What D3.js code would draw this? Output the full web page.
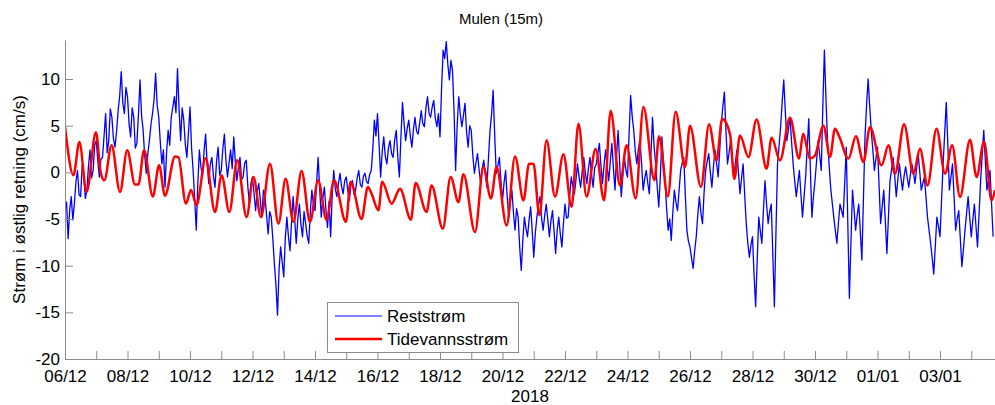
<!DOCTYPE html>
<html>
<head>
<meta charset="utf-8">
<script src="https://cdn.jsdelivr.net/npm/d3@7"></script>
<style>
  html, body { margin: 0; padding: 0; background: #fff; }
  svg { display: block; font-family: "Liberation Sans", Arial, sans-serif; }
</style>
</head>
<body>
<svg id="chart" width="995" height="405"></svg>
<script>
// ---------------- DATA ----------------
const title = "Mulen (15m)";
const yLabel = "Strøm i østlig retning (cm/s)";
const xLabel = "2018";
const seriesNames = ["Reststrøm", "Tidevannsstrøm"];
const startDate = "2018-12-06T00:00:00Z";
const endDays = 29.76;              // axis end, days after start
const yTicks = [-20, -15, -10, -5, 0, 5, 10];
const yMax = 14.18;
const xTickLabels = ["06/12","08/12","10/12","12/12","14/12","16/12","18/12","20/12",
                     "22/12","24/12","26/12","28/12","30/12","01/01","03/01"];

// Residual current (Reststrøm), cm/s, read every 0.1 day from start (d = 0.0, 0.1, ...)
const residualStepDays = 0.1;
const residual = [
  -4.1,-7.1,-2.6,-3.4,0.2,-2.6,-0.1,-1.9,2.4,0.2,
  3.4,-0.5,1.6,6.3,3.4,5.9,2.7,6.6,10.8,6.3,
  8.1,3.8,5.9,3.1,9.9,4.5,-0.1,3.4,6.3,10.6,
  5.9,0.9,-1.6,4.5,5.9,8.1,11.1,3.4,5.6,1.6,
  7.0,0.2,-6.2,2.4,-0.5,4.1,-1.2,1.6,-1.6,2.7,
  0.2,4.1,-0.5,2.4,3.8,-0.9,1.6,-0.5,1.3,-3.4,
  -0.5,-4.1,-1.2,-4.8,-2.6,-6.6,-4.8,-9.8,-15.3,-8.0,
  -11.2,-4.8,-8.4,-2.6,-7.6,-3.4,-6.9,-5.5,-7.6,-1.9,
  -4.1,1.6,-4.8,-1.6,-5.9,-6.9,0.2,-2.6,-0.1,-2.3,
  -0.5,-3.0,-0.9,-1.9,0.2,-1.6,-0.1,-1.2,0.2,5.6,
  6.3,-0.5,3.8,0.9,3.4,1.6,4.5,-0.5,7.5,3.4,
  5.6,2.7,5.9,4.1,6.6,4.9,8.1,5.9,7.7,4.9,
  3.8,13.1,14.0,9.9,10.9,0.2,8.1,4.9,7.4,2.7,
  4.5,-0.1,2.0,-1.2,1.3,-1.6,4.5,8.8,-0.1,1.6,
  -3.0,0.2,-4.8,-1.9,-6.2,-4.8,-10.5,-4.8,-6.9,-3.7,
  -9.1,-4.8,-2.6,-6.2,-3.4,-6.9,-4.1,-8.7,-4.8,-8.0,
  -3.4,-4.8,-0.5,-2.3,0.9,-1.6,1.6,-1.2,1.6,-1.6,
  0.9,3.1,-1.2,2.4,-0.9,3.1,-1.9,4.5,-2.6,1.6,
  -0.5,8.25,4.5,0.9,3.4,-1.9,0.2,-2.3,5.9,0.9,
  -3.7,3.8,-0.9,-6.2,-7.3,-1.9,-4.1,0.2,1.6,-6.2,
  -8.0,-10.3,-6.9,-2.6,-5.5,0.2,2.0,-1.6,2.4,-0.5,
  5.2,8.6,0.9,3.4,-0.5,2.4,-2.3,0.9,-5.5,-9.1,
  -6.9,-14.4,-4.8,-7.6,-0.9,-5.5,-3.4,-14.4,0.9,4.9,
  9.9,3.4,5.9,0.9,-2.6,0.2,-4.8,-0.5,5.75,-4.8,
  -0.9,3.4,0.2,13.1,3.4,-1.6,-4.8,-7.6,-3.4,-4.8,
  2.7,-13.5,-1.9,-6.2,-3.4,-9.4,3.8,10.0,4.5,0.2,
  2.7,-5.5,-1.9,-8.7,-0.9,1.6,-2.6,0.9,-1.9,0.6,
  -1.6,0.9,-1.2,2.0,-1.9,-0.5,-4.8,-7.6,-10.9,-4.8,
  -6.9,0.9,7.5,-1.9,0.9,-6.2,-4.1,-10.1,-6.2,-2.6,
  -6.9,-3.4,-8.0,-0.9,4.5,-1.9,0.2,-6.9
];
// Residual current read halfway between those samples (d = 0.05, 0.15, ...)
const residualMid = [
  -3.2,-4.0,-5.1,-1.0,-2.4,0.8,-2.8,0.6,-0.6,2.9,
  1.2,1.4,3.9,2.1,6.8,3.6,4.4,8.2,7.4,9.1,
  5.2,6.9,2.6,6.2,6.1,1.8,2.0,5.1,7.8,7.2,
  3.2,2.4,2.1,2.9,7.0,6.4,6.8,6.9,3.0,4.2,
  2.6,-2.8,-1.2,0.6,2.3,0.8,0.9,-0.4,1.2,-0.3,
  2.5,1.3,1.0,0.4,1.1,0.6,-0.8,1.0,-1.5,-1.2,
  -2.3,-2.0,-3.0,-1.9,-4.6,-4.2,-7.1,-12.1,-10.4,-9.6,
  -7.0,-6.9,-5.3,-5.1,-5.0,-5.6,-4.2,-6.8,-4.3,-3.5,
  -1.2,-1.8,-2.8,-4.0,-3.1,-2.5,-1.8,-1.2,-1.5,-0.9,
  -2.0,-1.4,-2.4,-0.6,-1.3,-0.4,-1.0,-0.2,2.5,3.9,
  3.0,2.2,1.7,2.6,2.0,3.5,1.6,3.8,5.2,4.7,
  3.9,4.6,4.4,5.3,5.2,6.9,6.3,7.0,5.8,6.3,
  9.0,12.2,11.6,12.0,6.5,5.1,6.2,6.1,4.3,5.0,
  1.8,1.0,0.3,0.4,-0.2,1.5,6.2,4.0,0.7,-0.9,
  -1.1,-2.6,-3.2,-4.3,-3.9,-8.0,-7.3,-6.0,-5.1,-6.2,
  -6.5,-3.5,-4.9,-4.6,-5.1,-5.2,-6.3,-6.2,-6.6,-5.5,
  -4.9,-2.5,-1.5,-0.8,-0.5,0.1,0.0,0.4,-0.2,0.5,
  2.0,0.7,0.8,0.6,1.2,0.4,1.8,0.9,-0.4,0.2,
  4.0,6.0,2.2,2.6,1.0,-0.7,-1.2,1.9,2.8,-1.5,
  -0.5,1.2,-3.8,-5.0,-4.3,-3.2,-2.0,1.0,-2.4,-7.4,
  -9.2,-8.4,-4.5,-4.4,-2.2,1.2,0.0,0.6,1.0,2.3,
  7.0,4.5,2.1,1.4,1.0,0.0,-0.6,-2.4,-7.6,-7.8,
  -11.0,-9.5,-6.3,-4.0,-3.4,-4.2,-8.8,-6.5,2.8,7.6,
  6.5,4.6,3.3,-0.9,-1.2,-2.4,-2.6,2.6,0.5,-2.6,
  1.2,1.8,7.0,8.0,0.9,-3.2,-6.2,-5.4,-4.1,-1.2,
  -5.5,-7.5,-4.0,-4.6,-6.4,-2.8,7.2,7.1,2.4,1.5,
  -1.4,-3.7,-5.2,-4.8,0.3,-0.4,-0.8,-0.6,-0.4,-0.5,
  -0.3,0.0,0.4,0.1,-1.2,-2.6,-6.2,-9.2,-7.9,-5.8,
  -3.0,4.2,3.0,-0.5,-2.6,-5.0,-7.1,-8.2,-4.4,-4.8,
  -5.1,-5.7,-4.4,1.8,1.3,-0.8,-3.4
];

// Tidal current (Tidevannsstrøm): turning points, days after start / cm/s
const tideDays = [
  0,0.27,0.46,0.69,0.99,1.14,1.26,1.49,1.76,1.99,2.24,2.35,2.53,2.81,3.01,3.2,3.52,3.63,3.87,4.03,
  4.21,4.5,4.8,5.01,5.26,5.51,5.81,6.03,6.27,6.56,6.83,7.06,7.31,7.57,7.84,8.1,8.37,8.61,8.99,9.14,
  9.49,9.69,9.81,10.03,10.15,10.45,10.72,11.07,11.22,11.57,11.73,12.09,12.34,12.59,12.75,13.12,13.39,13.63,13.81,14.13,
  14.4,14.67,14.85,14.99,15.18,15.41,15.68,15.95,16.21,16.43,16.69,16.98,17.25,17.46,17.76,17.97,18.26,18.51,18.86,19.01,
  19.29,19.54,19.84,20.0,20.35,20.61,20.85,21.03,21.28,21.42,21.6,21.87,22.13,22.45,22.61,22.88,23.2,23.49,23.62,23.84,
  24.0,24.27,24.48,24.64,24.78,25.07,25.31,25.55,25.76,26.13,26.35,26.56,26.85,27.15,27.36,27.6,27.89,28.16,28.39,28.64,
  28.96,29.17,29.41,29.65,29.76
];
const tideValues = [
  4.9,-0.3,3.25,-2.1,4.3,0.0,-0.86,2.9,-2.1,2.36,-1.3,-1.3,2.36,-2.6,0.75,-2.5,1.7,1.6,-3.35,-1.9,
  -3.5,1.5,-4.25,-0.3,-4.25,1.3,-4.8,-0.5,-4.8,0.93,-5.5,-0.7,-5.3,0.15,-5.3,-0.86,-5.1,-0.86,-5.3,-1.0,
  -5.0,-1.57,-2.3,-4.07,-1.0,-3.36,-1.75,-5.07,-1.14,-4.25,-1.4,-6.04,-0.5,-3.2,-0.2,-6.4,0.57,-2.8,0.57,-5.7,
  1.7,-3.0,0.93,0.93,-4.6,3.43,-2.6,1.93,-3.7,5.2,-2.6,2.5,-3.0,6.6,-1.4,2.9,-2.8,7.0,-0.86,3.86,
  -2.6,6.5,0.57,5.0,-1.57,5.14,1.29,5.75,4.1,-0.7,3.96,1.64,5.65,0.4,3.7,1.29,5.86,1.47,4.14,1.47,
  1.8,5.0,1.64,4.68,3.8,1.47,3.86,1.1,4.86,0.75,2.9,-0.14,5.14,-0.14,2.54,-1.4,4.68,-0.14,2.9,-2.64,
  3.5,-0.5,3.3,-3.0,-1.9
];

// ---------------- CHART ----------------
const plot = { left: 65, right: 995, top: 40, bottom: 359 };
const axisColor = "#8c8c8c";
const t0 = new Date(startDate).getTime();
const DAY = 864e5;
const dayToDate = d => new Date(t0 + d * DAY);

const svg = d3.select("#chart");

const x = d3.scaleUtc()
  .domain([dayToDate(0), dayToDate(endDays)])
  .range([plot.left, plot.right]);
const y = d3.scaleLinear()
  .domain([-20, yMax])
  .range([plot.bottom, plot.top]);

svg.append("defs").append("clipPath").attr("id", "clip")
  .append("rect")
  .attr("x", plot.left).attr("y", plot.top)
  .attr("width", plot.right - plot.left).attr("height", plot.bottom - plot.top);

// merge the two residual readings in time order
const residualData = [];
residual.forEach((v, i) => {
  residualData.push({ t: dayToDate(i * residualStepDays), v });
  if (i < residualMid.length)
    residualData.push({ t: dayToDate((i + 0.5) * residualStepDays), v: residualMid[i] });
});
const tideData = tideDays.map((d, i) => ({ t: dayToDate(d), v: tideValues[i] }));

const g = svg.append("g").attr("clip-path", "url(#clip)");
g.append("path")
  .datum(residualData)
  .attr("fill", "none")
  .attr("stroke", "#0000ff")
  .attr("stroke-width", 1.3)
  .attr("stroke-linejoin", "round")
  .attr("d", d3.line().x(d => x(d.t)).y(d => y(d.v)));
g.append("path")
  .datum(tideData)
  .attr("fill", "none")
  .attr("stroke", "#ff0000")
  .attr("stroke-width", 2.5)
  .attr("stroke-linejoin", "round")
  .attr("d", d3.line().curve(d3.curveMonotoneX).x(d => x(d.t)).y(d => y(d.v)));

// x axis: daily ticks, labels every second day
const labelDates = xTickLabels.map(s => {
  const [dd, mm] = s.split("/").map(Number);
  return Date.UTC(mm === 12 ? 2018 : 2019, mm - 1, dd);
});
const dailyTicks = d3.utcDay.range(dayToDate(0), dayToDate(endDays + 0.001));
const xAxis = d3.axisBottom(x)
  .tickValues(dailyTicks)
  .tickSizeInner(-8)
  .tickSizeOuter(0)
  .tickPadding(11)
  .tickFormat(d => {
    const k = labelDates.indexOf(d.getTime());
    return k >= 0 ? xTickLabels[k] : "";
  });
const gx = svg.append("g")
  .attr("transform", `translate(0,${plot.bottom})`)
  .call(xAxis);

// y axis
const yAxis = d3.axisLeft(y)
  .tickValues(yTicks)
  .tickSizeInner(-8)
  .tickSizeOuter(0)
  .tickPadding(5)
  .tickFormat(d => String(d));
const gy = svg.append("g")
  .attr("transform", `translate(${plot.left},0)`)
  .call(yAxis);

[gx, gy].forEach(a => {
  a.select(".domain").attr("stroke", axisColor);
  a.selectAll(".tick line").attr("stroke", axisColor);
  a.selectAll(".tick text")
    .attr("fill", "#000")
    .style("font-size", "17px")
    .style("font-family", "'Liberation Sans', Arial, sans-serif");
});

// titles
svg.append("text")
  .attr("x", 501).attr("y", 24)
  .attr("text-anchor", "middle")
  .style("font-size", "15px")
  .attr("fill", "#000")
  .text(title);

svg.append("text")
  .attr("x", (plot.left + plot.right) / 2).attr("y", 402)
  .attr("text-anchor", "middle")
  .style("font-size", "17px")
  .attr("fill", "#000")
  .text(xLabel);

svg.append("text")
  .attr("transform", `translate(25,${(plot.top + plot.bottom) / 2}) rotate(-90)`)
  .attr("text-anchor", "middle")
  .style("font-size", "17px")
  .attr("fill", "#000")
  .text(yLabel);

// legend
const lg = svg.append("g").attr("transform", "translate(327,302)");
lg.append("rect")
  .attr("x", 0.5).attr("y", 0.5)
  .attr("width", 191).attr("height", 50)
  .attr("fill", "#fff")
  .attr("stroke", axisColor);
const legendColors = ["#0000ff", "#ff0000"];
const legendWidths = [1, 2.5];
seriesNames.forEach((name, i) => {
  const yy = 14 + i * 23;
  lg.append("line")
    .attr("x1", 8).attr("x2", 55)
    .attr("y1", yy).attr("y2", yy)
    .attr("stroke", legendColors[i])
    .attr("stroke-width", legendWidths[i]);
  lg.append("text")
    .attr("x", 60).attr("y", yy + 6)
    .style("font-size", "17px")
    .attr("fill", "#000")
    .text(name);
});
</script>
</body>
</html>
